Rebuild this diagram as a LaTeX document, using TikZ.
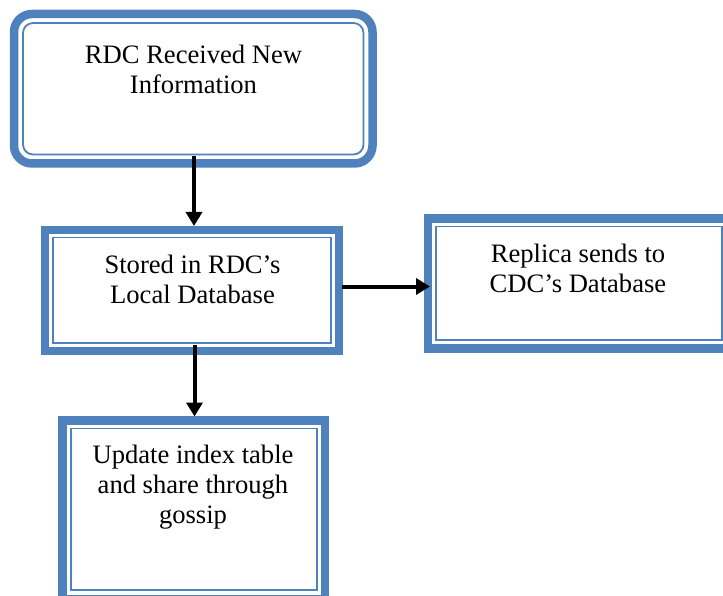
\documentclass[tikz,border=0pt]{standalone}
\usepackage{fontspec}
\setmainfont{Liberation Serif}
\usetikzlibrary{arrows.meta}
\definecolor{wordblue}{HTML}{4F81BD}
\tikzset{
  box/.style={draw=wordblue, line width=8.5pt, inner sep=0pt, outer sep=0pt, fill=white},
  inner line/.style={draw=wordblue, line width=1.8pt},
  txt/.style={font=\fontsize{26.6}{30}\selectfont, align=center, anchor=north, inner sep=0pt},
  arr/.style={draw=black, line width=4pt, -{Triangle[length=14pt,width=16pt]}}
}
\begin{document}
\begin{tikzpicture}[x=1pt,y=-1pt]
\useasboundingbox (0,0) rectangle (723,596);
\clip (0,0) rectangle (723,596);
% boxes
\node[box, rounded corners=18pt, minimum width=358.5pt, minimum height=149.5pt] (b1) at (193.25,88.75) {};
\draw[inner line, rounded corners=10pt] ([shift={(9pt,-9pt)}]b1.north west) rectangle ([shift={(-9pt,9pt)}]b1.south east);
\node[box, minimum width=294pt, minimum height=121pt] (b2) at (192,290.5) {};
\draw[inner line] ([shift={(8pt,-7.5pt)}]b2.north west) rectangle ([shift={(-8pt,8pt)}]b2.south east);
\node[box, minimum width=302pt, minimum height=130pt] (b3) at (579,283.5) {};
\draw[inner line] ([shift={(8pt,-8pt)}]b3.north west) rectangle ([shift={(-8pt,8.5pt)}]b3.south east);
\node[box, minimum width=262.5pt, minimum height=178.5pt] (b4) at (193.75,509.75) {};
\draw[inner line] ([shift={(8.5pt,-8pt)}]b4.north west) rectangle ([shift={(-8pt,9pt)}]b4.south east);
% texts
\node[txt] (t1) at (193.5,44.5) {RDC Received New\\Information};
\node[txt] (t2) at (192.5,254.8) {Stored in RDC’s\\Local Database};
\node[txt] (t3) at (578,243.5) {Replica sends to\\CDC’s Database};
\node[txt] (t4) at (193,444.8) {Update index table\\and share through\\gossip};
% arrows
\coordinate (a3s) at ([shift={(3pt,4pt)}]b2.east);
\coordinate (a3e) at ([xshift=2pt]a3s -| b3.west);
\draw[arr] ([shift={(0.75pt,7.5pt)}]b1.south) -- ([shift={(2pt,4pt)}]b2.north);
\draw[arr] ([shift={(2.5pt,6pt)}]b2.south) -- ([shift={(2.5pt,4pt)}]b2.south |- b4.north);
\draw[arr] (a3s) -- (a3e);
\end{tikzpicture}
\end{document}
